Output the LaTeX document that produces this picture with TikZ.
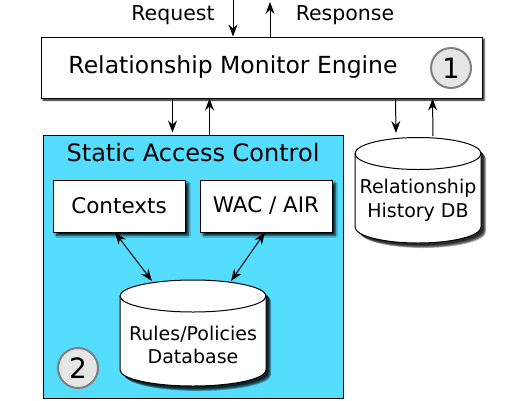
\documentclass[tikz,border=0pt]{standalone}
\usepackage{fontspec}
\setmainfont{DejaVu Sans}
\usepackage{tikz}
\usetikzlibrary{arrows}
\usetikzlibrary {arrows.meta}
\usetikzlibrary{calc,shadows.blur,positioning}
\definecolor{sacblue}{HTML}{55DDFF}
\definecolor{numfill}{HTML}{E6E6E6}
\newcommand{\pxfont}[1]{\fontsize{#1}{1.25\dimexpr#1pt\relax}\selectfont}

\begin{document}
\begin{tikzpicture}[x=1pt, y=-1pt, line width=1pt,
      link/.style = {-{Stealth[length=12pt, width=9pt, inset=4pt]}},
      dlink/.style = {{Stealth[length=12pt, width=9pt, inset=4pt]}-{Stealth[length=12pt, width=9pt, inset=4pt]}},
      box/.style = {draw=black, fill=white, inner sep=0pt,
        blur shadow={shadow xshift=3.5pt, shadow yshift=-3.5pt, shadow blur steps=6,
          shadow opacity=90, shadow blur radius=2pt}},
      dbtext/.style = {align=center, font=\pxfont{19}},
      numcirc/.style = {circle, draw=gray, fill=numfill, line width=2pt,
        minimum size=40pt, inner sep=0pt, font=\pxfont{28}}]
    \useasboundingbox (0,0) rectangle (528,400);
    % engine
    \node [box, minimum width=441pt, minimum height=61pt,
      blur shadow={shadow xshift=2pt, shadow yshift=-2pt, shadow blur steps=4,
        shadow opacity=60, shadow blur radius=1.5pt}] (rme)
      at (261.5,67.5) {};
    \node [font=\pxfont{23.5}] (rmetext) at (233,67) {Relationship Monitor Engine};
    \node [numcirc] (one) at (451,68) {1};
    \coordinate (reqtop) at (233,0);
    \coordinate (resptop) at (270,2);
    \draw [link] (reqtop) -- (reqtop |- rme.north);
    \draw [link] (resptop |- rme.north) -- (resptop);
    \node [font=\pxfont{20.5}] (reqlbl) at (173,15) {Request};
    \node [font=\pxfont{20.5}] (resplbl) at (345,15) {Response};
    % static access control
    \node [draw=black, fill=sacblue, minimum width=300pt, minimum height=263pt,
      inner sep=0pt] (sac) at (193,266.5) {};
    \node [font=\pxfont{24}] (sactitle) at (193,153) {Static Access Control};
    \node [box, minimum width=132pt, minimum height=52pt, font=\pxfont{21.5}] (ctx)
      at (119,206) {Contexts};
    \node [box, minimum width=132pt, minimum height=52pt, font=\pxfont{21.5}] (wac)
      at (266,206) {WAC / AIR};
    % databases
    \foreach \cx/\ty/\by/\rx in {193/296/370/73, 418/153.5/227/63} {
      \foreach \s in {1,...,5}
        \fill [black, opacity=0.3, xshift=1.5pt+0.7*\s pt, yshift=-1.5pt-0.7*\s pt]
          ({\cx-\rx},\ty) -- ({\cx-\rx},\by)
          arc [start angle=180, end angle=360, x radius=\rx pt, y radius=16pt]
          -- ({\cx+\rx},\ty)
          arc [start angle=0, end angle=180, x radius=\rx pt, y radius=16pt] -- cycle;
      \draw [fill=white] ({\cx-\rx},\ty) -- ({\cx-\rx},\by)
        arc [start angle=180, end angle=360, x radius=\rx pt, y radius=16pt]
        -- ({\cx+\rx},\ty)
        arc [start angle=0, end angle=180, x radius=\rx pt, y radius=16pt] -- cycle;
      \draw ({\cx-\rx},\ty)
        arc [start angle=180, end angle=360, x radius=\rx pt, y radius=16pt];
    }
    \node [dbtext] (rulestxt) at (193,345) {Rules/Policies\\Database};
    \node [dbtext] (histtxt) at (418,200) {Relationship\\History DB};
    \coordinate (rulesl) at (152,281);
    \coordinate (rulesr) at (231,281);
    \coordinate (histl) at (396,133);
    \coordinate (histr) at (433,136);
    \draw [dlink] ([xshift=-4pt]ctx.south) -- (rulesl);
    \draw [dlink] ([xshift=-1pt]wac.south) -- (rulesr);
    \node [numcirc] (two) at (78,368) {2};
    % engine links
    \draw [link] ([xshift=132pt]rme.south west) -- ([xshift=130pt,yshift=2pt]sac.north west);
    \draw [link] ([xshift=167pt]sac.north west) -- ([xshift=169pt]rme.south west);
    \draw [link] ([xshift=355pt]rme.south west) -- (histl);
    \draw [link] (histr) -- ([xshift=392pt]rme.south west);
\end{tikzpicture}
\end{document}
